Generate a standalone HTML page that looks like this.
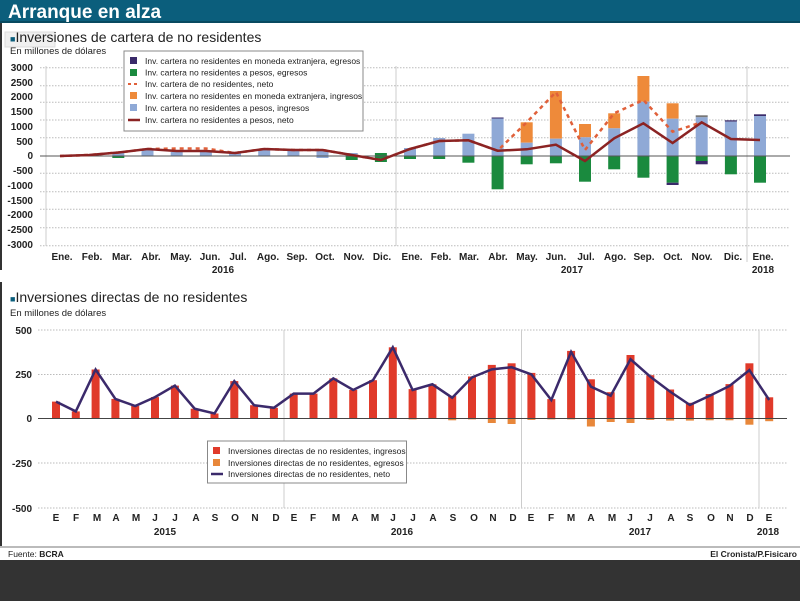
<!DOCTYPE html>
<html><head><meta charset="utf-8"><style>
body{margin:0;width:800px;height:601px;overflow:hidden;background:#fff}
svg{display:block}
text{font-family:"Liberation Sans Narrow","Liberation Sans",sans-serif}
.t{font-size:10px;font-weight:bold;fill:#222}
.lg{font-size:8.5px;fill:#222}
</style></head><body>
<svg width="800" height="601" viewBox="0 0 800 601">
<rect x="0" y="0" width="800" height="23" fill="#0b5e7c"/>
<rect x="0" y="21" width="800" height="2" fill="#084a60"/>
<text x="8" y="18" font-size="19" font-weight="bold" fill="#fff" style="font-family:'Liberation Sans Narrow','Liberation Sans',sans-serif">Arranque en alza</text>
<rect x="0" y="23" width="2" height="247" fill="#333"/>
<rect x="0" y="282" width="2" height="266" fill="#333"/>
<rect x="5" y="32" width="50" height="15" fill="#f0f0f0" stroke="#ddd"/>
<text x="10" y="42" font-size="14" fill="#222"><tspan fill="#0b5e7c" font-size="9">■</tspan>Inversiones de cartera de no residentes</text>
<text x="10" y="54" font-size="9.5" fill="#222">En millones de dólares</text>
<!-- top grid -->
<g stroke="#bbb" stroke-dasharray="1.5,1.5" stroke-width="1">
<line x1="40" y1="67.7" x2="790" y2="67.7"/><line x1="40" y1="85.7" x2="790" y2="85.7"/><line x1="40" y1="102.3" x2="790" y2="102.3"/><line x1="40" y1="120" x2="790" y2="120"/><line x1="40" y1="137.7" x2="790" y2="137.7"/><line x1="40" y1="173.3" x2="790" y2="173.3"/><line x1="40" y1="191.7" x2="790" y2="191.7"/><line x1="40" y1="209.3" x2="790" y2="209.3"/><line x1="40" y1="227.7" x2="790" y2="227.7"/><line x1="40" y1="245.7" x2="790" y2="245.7"/>
</g>
<line x1="46" y1="66" x2="46" y2="246" stroke="#ccc"/>
<line x1="396" y1="66" x2="396" y2="246" stroke="#ccc"/>
<line x1="747" y1="66" x2="747" y2="262" stroke="#ccc"/>
<g class="t" text-anchor="end" font-size="9.5">
<text x="33" y="71">3000</text><text x="33" y="86">2500</text><text x="33" y="100">2000</text><text x="33" y="115">1500</text><text x="33" y="130">1000</text><text x="33" y="145">500</text><text x="33" y="159">0</text><text x="33" y="174">-500</text><text x="33" y="189">-1000</text><text x="33" y="204">-1500</text><text x="33" y="218">-2000</text><text x="33" y="233">-2500</text><text x="33" y="248">-3000</text>
</g>
<!-- top bars -->
<g>
<rect x="141.5" y="150" width="12" height="6" fill="#8fa9d6"/>
<rect x="112.3" y="153" width="12" height="3" fill="#8fa9d6"/><rect x="112.3" y="156" width="12" height="2" fill="#1a8a3e"/>
<rect x="170.7" y="152" width="12" height="4" fill="#8fa9d6"/><rect x="199.9" y="152" width="12" height="4" fill="#8fa9d6"/>
<rect x="229" y="153" width="12" height="3" fill="#8fa9d6"/>
<rect x="258.2" y="149" width="12" height="7" fill="#8fa9d6"/>
<rect x="287.4" y="150" width="12" height="6" fill="#8fa9d6"/>
<rect x="316.5" y="150" width="12" height="6" fill="#8fa9d6"/><rect x="316.5" y="156" width="12" height="2" fill="#8fa9d6"/>
<rect x="345.7" y="153" width="12" height="3" fill="#8fa9d6"/><rect x="345.7" y="156" width="12" height="4" fill="#1a8a3e"/>
<rect x="374.9" y="153" width="12" height="3" fill="#1a8a3e"/><rect x="374.9" y="156" width="12" height="6" fill="#1a8a3e"/>
<rect x="404" y="148" width="12" height="8" fill="#8fa9d6"/><rect x="404" y="156" width="12" height="3" fill="#1a8a3e"/>
<rect x="433.2" y="138" width="12" height="18" fill="#8fa9d6"/><rect x="433.2" y="156" width="12" height="3" fill="#1a8a3e"/>
<rect x="462.4" y="133.7" width="12" height="22.3" fill="#8fa9d6"/><rect x="462.4" y="156" width="12" height="6.7" fill="#1a8a3e"/>
<rect x="491.6" y="118.3" width="12" height="37.7" fill="#8fa9d6"/><rect x="491.6" y="117.5" width="12" height="1" fill="#3a2a6a"/><rect x="491.6" y="156" width="12" height="33.3" fill="#1a8a3e"/>
<rect x="520.7" y="122.3" width="12" height="20.4" fill="#ee8a3a"/><rect x="520.7" y="142.7" width="12" height="13.3" fill="#8fa9d6"/><rect x="520.7" y="156" width="12" height="8.3" fill="#1a8a3e"/>
<rect x="549.9" y="91" width="12" height="47.7" fill="#ee8a3a"/><rect x="549.9" y="138.7" width="12" height="17.3" fill="#8fa9d6"/><rect x="549.9" y="156" width="12" height="7.3" fill="#1a8a3e"/>
<rect x="579" y="124" width="12" height="13.3" fill="#ee8a3a"/><rect x="579" y="137.3" width="12" height="18.7" fill="#8fa9d6"/><rect x="579" y="156" width="12" height="25.7" fill="#1a8a3e"/>
<rect x="608.2" y="113.3" width="12" height="15" fill="#ee8a3a"/><rect x="608.2" y="128.3" width="12" height="27.7" fill="#8fa9d6"/><rect x="608.2" y="156" width="12" height="13.3" fill="#1a8a3e"/>
<rect x="637.4" y="76" width="12" height="25.7" fill="#ee8a3a"/><rect x="637.4" y="101.7" width="12" height="54.3" fill="#8fa9d6"/><rect x="637.4" y="156" width="12" height="21.7" fill="#1a8a3e"/>
<rect x="666.6" y="103.3" width="12" height="15.4" fill="#ee8a3a"/><rect x="666.6" y="118.7" width="12" height="37.3" fill="#8fa9d6"/><rect x="666.6" y="156" width="12" height="26.7" fill="#1a8a3e"/><rect x="666.6" y="182.7" width="12" height="2.3" fill="#3a2a6a"/>
<rect x="695.7" y="115.3" width="12" height="2" fill="#777"/><rect x="695.7" y="117.3" width="12" height="38.7" fill="#8fa9d6"/><rect x="695.7" y="156" width="12" height="5" fill="#1a8a3e"/><rect x="695.7" y="161" width="12" height="3.3" fill="#3a2a6a"/>
<rect x="724.9" y="120.3" width="12" height="1.4" fill="#3a2a6a"/><rect x="724.9" y="121.7" width="12" height="34.3" fill="#8fa9d6"/><rect x="724.9" y="156" width="12" height="18.3" fill="#1a8a3e"/>
<rect x="754" y="114.3" width="12" height="1.7" fill="#3a2a6a"/><rect x="754" y="116" width="12" height="40" fill="#8fa9d6"/><rect x="754" y="156" width="12" height="26.7" fill="#1a8a3e"/>
</g>
<line x1="40" y1="156" x2="790" y2="156" stroke="#555" stroke-width="1"/>
<polyline fill="none" stroke="#e0603a" stroke-width="2.5" stroke-dasharray="4,4" points="60,156 89.2,155 118.3,152.5 147.5,149 176.7,148.5 205.9,148.5 235,153 264.2,149 293.4,150 322.5,150 351.7,155 380.9,160 410,149 439.2,141 468.4,140.3 497.6,150.7 526.7,122.3 555.9,92 585,150 614.2,113.3 643.4,100 672.6,131.7 701.7,122.3"/>
<polyline fill="none" stroke="#8b2323" stroke-width="2.5" points="60,156 89.2,155 118.3,152.5 147.5,149 176.7,151 205.9,151 235,153 264.2,149 293.4,150 322.5,150 351.7,155 380.9,160 410,149 439.2,141 468.4,140.3 497.6,150.7 526.7,149.3 555.9,144.7 585,161 614.2,138.3 643.4,123.3 672.6,143 701.7,122.3 730.9,139 760,140"/>
<!-- top legend -->
<rect x="124" y="51" width="239" height="80" fill="#fff" stroke="#888"/>
<rect x="130" y="57" width="7" height="7" fill="#3a2a6a"/><text class="lg" x="145" y="64">Inv. cartera no residentes en moneda extranjera, egresos</text>
<rect x="130" y="69" width="7" height="7" fill="#1a8a3e"/><text class="lg" x="145" y="75.5">Inv. cartera no residentes a pesos, egresos</text>
<line x1="128" y1="84" x2="140" y2="84" stroke="#e0603a" stroke-width="2" stroke-dasharray="3,3"/><text class="lg" x="145" y="87">Inv. cartera de no residentes, neto</text>
<rect x="130" y="92" width="7" height="7" fill="#ee8a3a"/><text class="lg" x="145" y="99">Inv. cartera no residentes en moneda extranjera, ingresos</text>
<rect x="130" y="104" width="7" height="7" fill="#8fa9d6"/><text class="lg" x="145" y="111">Inv. cartera no residentes a pesos, ingresos</text>
<line x1="128" y1="120" x2="140" y2="120" stroke="#8b2323" stroke-width="2.5"/><text class="lg" x="145" y="123">Inv. cartera no residentes a pesos, neto</text>
<!-- top x labels -->
<g class="t" text-anchor="middle" font-size="9.5">
<text x="62" y="260">Ene.</text><text x="92" y="260">Feb.</text><text x="122" y="260">Mar.</text><text x="151" y="260">Abr.</text><text x="181" y="260">May.</text><text x="210" y="260">Jun.</text><text x="238" y="260">Jul.</text><text x="268" y="260">Ago.</text><text x="297" y="260">Sep.</text><text x="325" y="260">Oct.</text><text x="354" y="260">Nov.</text><text x="382" y="260">Dic.</text>
<text x="412" y="260">Ene.</text><text x="441" y="260">Feb.</text><text x="469" y="260">Mar.</text><text x="498" y="260">Abr.</text><text x="527" y="260">May.</text><text x="556" y="260">Jun.</text><text x="586" y="260">Jul.</text><text x="615" y="260">Ago.</text><text x="644" y="260">Sep.</text><text x="673" y="260">Oct.</text><text x="702" y="260">Nov.</text><text x="733" y="260">Dic.</text><text x="763" y="260">Ene.</text>
<text x="223" y="273">2016</text><text x="572" y="273">2017</text><text x="763" y="273">2018</text>
</g>
<!-- bottom chart -->
<text x="10" y="302" font-size="14" fill="#222"><tspan fill="#0b5e7c" font-size="9">■</tspan>Inversiones directas de no residentes</text>
<text x="10" y="316" font-size="9.5" fill="#222">En millones de dólares</text>
<g stroke="#bbb" stroke-dasharray="1.5,1.5">
<line x1="38" y1="330" x2="787" y2="330"/><line x1="38" y1="374.5" x2="787" y2="374.5"/><line x1="38" y1="463" x2="787" y2="463"/><line x1="38" y1="508" x2="787" y2="508"/>
</g>
<line x1="284" y1="330" x2="284" y2="508" stroke="#ccc"/>
<line x1="521.5" y1="330" x2="521.5" y2="508" stroke="#ccc"/>
<line x1="759" y1="330" x2="759" y2="508" stroke="#ccc"/>
<g class="t" text-anchor="end" font-size="9.5">
<text x="32" y="334">500</text><text x="32" y="378">250</text><text x="32" y="422">0</text><text x="32" y="467">-250</text><text x="32" y="512">-500</text>
</g>
<g fill="#e03a2a">
<rect x="52" y="401.6" width="8" height="16.9"/><rect x="71.8" y="411.4" width="8" height="7.1"/><rect x="91.6" y="369.5" width="8" height="49"/><rect x="111.4" y="398.9" width="8" height="19.6"/><rect x="131.2" y="406" width="8" height="12.5"/><rect x="151" y="397.1" width="8" height="21.4"/><rect x="170.9" y="385.6" width="8" height="32.9"/><rect x="190.7" y="408.7" width="8" height="9.8"/><rect x="210.5" y="413.5" width="8" height="5"/><rect x="230.3" y="381.1" width="8" height="37.4"/><rect x="250.1" y="405.2" width="8" height="13.3"/><rect x="269.9" y="407.8" width="8" height="10.7"/>
<rect x="289.7" y="393.6" width="8" height="24.9"/><rect x="309.5" y="393.6" width="8" height="24.9"/><rect x="329.3" y="378.4" width="8" height="40.1"/><rect x="349.2" y="390" width="8" height="28.5"/><rect x="369" y="380.2" width="8" height="38.3"/><rect x="388.8" y="347.3" width="8" height="71.2"/><rect x="408.6" y="389.1" width="8" height="29.4"/><rect x="428.4" y="384.3" width="8" height="34.2"/><rect x="448.2" y="395.9" width="8" height="22.6"/><rect x="468" y="376.5" width="8" height="42"/><rect x="487.8" y="364.9" width="8" height="53.6"/><rect x="507.6" y="363.3" width="8" height="55.2"/>
<rect x="527.4" y="372.9" width="8" height="45.6"/><rect x="547.3" y="399.1" width="8" height="19.4"/><rect x="567.1" y="350.9" width="8" height="67.6"/><rect x="586.9" y="379.3" width="8" height="39.2"/><rect x="606.7" y="392.2" width="8" height="26.3"/><rect x="626.5" y="355" width="8" height="63.5"/><rect x="646.3" y="375.2" width="8" height="43.3"/><rect x="666.1" y="389.5" width="8" height="29"/><rect x="685.9" y="402.8" width="8" height="15.7"/><rect x="705.7" y="394" width="8" height="24.5"/><rect x="725.5" y="384.1" width="8" height="34.4"/><rect x="745.4" y="363.3" width="8" height="55.2"/><rect x="765.2" y="397.3" width="8" height="21.2"/>
</g>
<g fill="#e8873a">
<rect x="408.6" y="418.5" width="8" height="0.9"/><rect x="448.2" y="418.5" width="8" height="1.8"/><rect x="468" y="418.5" width="8" height="0.9"/><rect x="487.8" y="418.5" width="8" height="4.5"/><rect x="507.6" y="418.5" width="8" height="5.5"/><rect x="527.4" y="418.5" width="8" height="1.4"/><rect x="547.3" y="418.5" width="8" height="0.9"/><rect x="567.1" y="418.5" width="8" height="0.9"/><rect x="586.9" y="418.5" width="8" height="8"/><rect x="606.7" y="418.5" width="8" height="3.5"/><rect x="626.5" y="418.5" width="8" height="4.5"/><rect x="646.3" y="418.5" width="8" height="1.4"/><rect x="666.1" y="418.5" width="8" height="2.1"/><rect x="685.9" y="418.5" width="8" height="2.1"/><rect x="705.7" y="418.5" width="8" height="1.8"/><rect x="725.5" y="418.5" width="8" height="1.8"/><rect x="745.4" y="418.5" width="8" height="6.2"/><rect x="765.2" y="418.5" width="8" height="2.7"/>
</g>
<line x1="38" y1="418.5" x2="787" y2="418.5" stroke="#444"/>
<polyline fill="none" stroke="#3b2a6b" stroke-width="2.5" points="56,401.6 75.8,411.4 95.6,369.5 115.4,398.9 135.2,406 155,397.1 174.9,385.6 194.7,408.7 214.5,413.5 234.3,381.1 254.1,405.2 273.9,407.8 293.7,393.6 313.5,393.6 333.3,378.4 353.2,390 373,380.2 392.8,347.3 412.6,390 432.4,384.3 452.2,397.7 472,377.4 491.8,369.4 511.6,367.2 531.4,374.4 551.3,400 571.1,351.8 590.9,386.6 610.7,395.7 630.5,359.2 650.3,376.7 670.1,391.6 689.9,405 709.7,395.7 729.5,386 749.4,370.1 769.2,400"/>
<rect x="207.5" y="441" width="199" height="42" fill="#fff" stroke="#888"/>
<rect x="213" y="447" width="7" height="7" fill="#e03a2a"/><text class="lg" x="228" y="454">Inversiones directas de no residentes, ingresos</text>
<rect x="213" y="459" width="7" height="7" fill="#e8873a"/><text class="lg" x="228" y="466">Inversiones directas de no residentes, egresos</text>
<line x1="211" y1="474" x2="223" y2="474" stroke="#3b2a6b" stroke-width="2.5"/><text class="lg" x="228" y="477">Inversiones directas de no residentes, neto</text>
<g class="t" text-anchor="middle" font-size="9.5">
<text x="56" y="521">E</text><text x="76" y="521">F</text><text x="97" y="521">M</text><text x="116" y="521">A</text><text x="136" y="521">M</text><text x="155" y="521">J</text><text x="175" y="521">J</text><text x="196" y="521">A</text><text x="215" y="521">S</text><text x="235" y="521">O</text><text x="255" y="521">N</text><text x="276" y="521">D</text>
<text x="294" y="521">E</text><text x="313" y="521">F</text><text x="336" y="521">M</text><text x="355" y="521">A</text><text x="375" y="521">M</text><text x="393" y="521">J</text><text x="413" y="521">J</text><text x="433" y="521">A</text><text x="453" y="521">S</text><text x="474" y="521">O</text><text x="493" y="521">N</text><text x="513" y="521">D</text>
<text x="531" y="521">E</text><text x="551" y="521">F</text><text x="571" y="521">M</text><text x="591" y="521">A</text><text x="612" y="521">M</text><text x="630" y="521">J</text><text x="650" y="521">J</text><text x="671" y="521">A</text><text x="690" y="521">S</text><text x="711" y="521">O</text><text x="730" y="521">N</text><text x="750" y="521">D</text><text x="769" y="521">E</text>
<text x="165" y="535">2015</text><text x="402" y="535">2016</text><text x="640" y="535">2017</text><text x="768" y="535">2018</text>
</g>
<rect x="0" y="546" width="800" height="2" fill="#bbb"/>
<text x="8" y="557" font-size="8.5" fill="#222">Fuente: <tspan font-weight="bold">BCRA</tspan></text>
<text x="797" y="557" font-size="8.5" font-weight="bold" fill="#222" text-anchor="end">El Cronista/P.Fisicaro</text>
<rect x="0" y="560" width="800" height="41" fill="#333"/>
</svg>
</body></html>
